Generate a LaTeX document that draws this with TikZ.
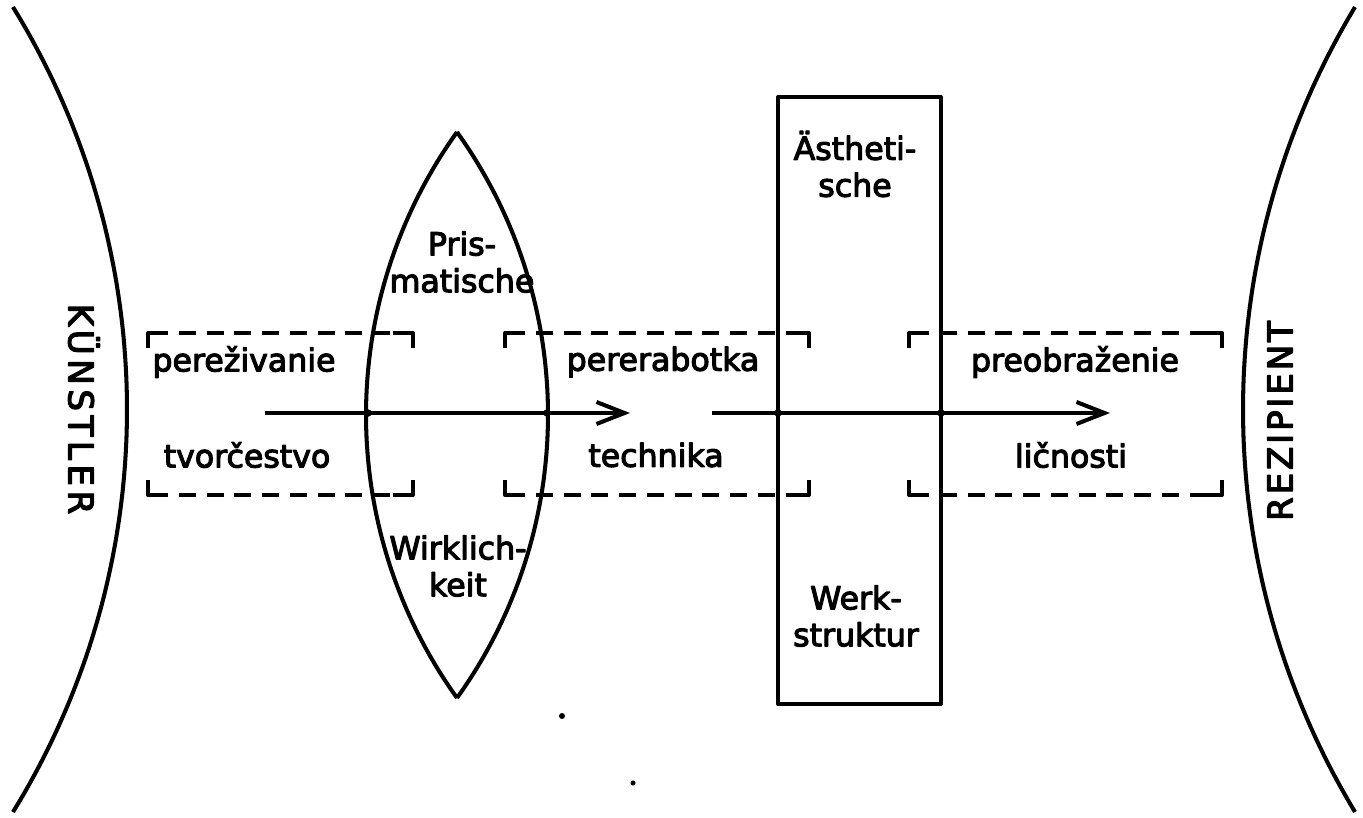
\documentclass[tikz,border=0pt]{standalone}
\usepackage{fontspec}
\setmainfont[FakeBold=3.5]{DejaVu Sans}
\newfontfamily\kfont[LetterSpace=13,FakeBold=3.5]{DejaVu Sans}
\newfontfamily\rfont[LetterSpace=8,FakeBold=3.5]{DejaVu Sans}
\usetikzlibrary{arrows.meta}
\newcommand\dframe[4]{%
  \draw (#1+20,#2) -- (#1,#2) -- (#1,#2+15);
  \draw (#3-20,#2) -- (#3,#2) -- (#3,#2+15);
  \draw (#1+20,#4) -- (#1,#4) -- (#1,#4-15);
  \draw (#3-20,#4) -- (#3,#4) -- (#3,#4-15);
  \draw[dsh] (#1+20,#2) -- (#3-20,#2);
  \draw[dsh] (#1+20,#4) -- (#3-20,#4);
}
\begin{document}
\begin{tikzpicture}[x=0.02cm,y=-0.02cm, line width=2.3pt, line join=round,
  lbl/.style={font=\fontsize{18}{21}\selectfont, inner sep=0pt, align=center},
  dsh/.style={dash pattern=on 9.6pt off 6.2pt, dash phase=9.6pt},
  flow/.style={-{Straight Barb[length=5.6mm,width=4.4mm,line width=2.3pt]}},
  jdot/.style={circle, fill, inner sep=0pt, minimum size=1.5mm}]
\useasboundingbox (0,0) rectangle (1363,818);
% outer arcs
\draw plot[domain=-31.63:31.63, samples=80, smooth] ({-640.6+767.6*cos(\x)},{409.5+767.6*sin(\x)});
\draw plot[domain=148.9:211.1, samples=80, smooth] ({2022.2+779.2*cos(\x)},{409.5+779.2*sin(\x)});
\node[font=\kfont\fontsize{19.5}{21}\selectfont, inner sep=0pt, rotate=-90] (kuenstler) at (84,409) {KÜNSTLER};
\node[font=\rfont\fontsize{19.5}{21}\selectfont, inner sep=0pt, rotate=90] (rezipient) at (1280,421) {REZIPIENT};
% dashed frames
\dframe{148}{333}{413}{495}
\dframe{505}{333}{809}{495}
\dframe{909}{333}{1222}{495}
% lens
\coordinate (lenstop) at (457,132);
\coordinate (lensbot) at (457,698);
\draw plot[domain=215.66:144.34, samples=60, smooth] ({851.5+485.5*cos(\x)},{415+485.5*sin(\x)});
\draw plot[domain=-35.66:35.66, samples=60, smooth] ({62.5+485.5*cos(\x)},{415+485.5*sin(\x)});
% rectangle
\coordinate (rtl) at (778,97);
\coordinate (rbr) at (941,704);
\draw (rtl) rectangle (rbr);
% flow arrows
\coordinate (f1s) at (265,413);
\coordinate (f1e) at (630,413);
\coordinate (f2s) at (712,413);
\coordinate (f2e) at (1110,413);
\draw[flow] (f1s) -- (f1e);
\draw[flow] (f2s) -- (f2e);
\node[jdot] (j1) at (368,413) {};
\node[jdot] (j2) at (547,413) {};
\node[jdot] (j3) at (778,413) {};
\node[jdot] (j4) at (941,413) {};
% stray dots
\node[jdot, minimum size=1.2mm] (s1) at (562,716) {};
\node[jdot, minimum size=1.0mm] (s2) at (633,783) {};
% labels
\node[lbl] (pris) at (462,262) {Pris-\\matische};
\node[lbl] (wirk) at (458,566) {Wirklich-\\keit};
\node[lbl] (aest) at (855,164) {Ästheti-\\sche};
\node[lbl] (werk) at (856,616) {Werk-\\struktur};
\node[lbl] (per) at (244,362) {pereživanie};
\node[lbl] (tvo) at (247,455) {tvorčestvo};
\node[lbl] (perer) at (663,362) {pererabotka};
\node[lbl] (tech) at (656,455) {technika};
\node[lbl] (preo) at (1075,362) {preobraženie};
\node[lbl] (lic) at (1071,455) {ličnosti};
\end{tikzpicture}
\end{document}
